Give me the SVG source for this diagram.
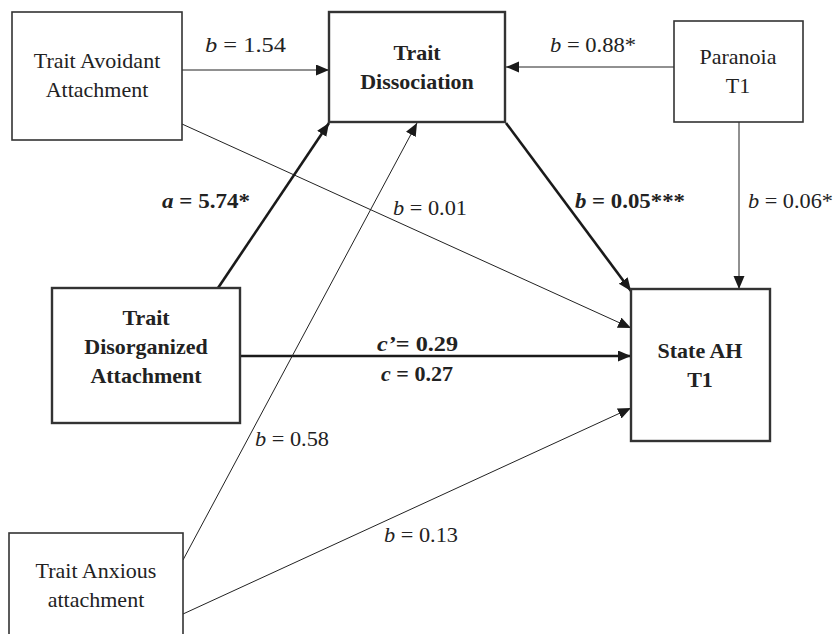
<svg xmlns="http://www.w3.org/2000/svg" width="834" height="634" viewBox="0 0 834 634">
<defs>
<marker id="ah" markerUnits="userSpaceOnUse" markerWidth="14" markerHeight="12" refX="13" refY="5.5" orient="auto">
<path d="M0,0 L13,5.5 L0,11 z" fill="#1a1a1a"/>
</marker>
<style>
.box{fill:#fff;stroke:#333;stroke-width:1.6}
.bbox{fill:#fff;stroke:#333;stroke-width:2.4}
.t{font-family:"Liberation Serif","Times New Roman",serif;font-size:22px;fill:#222}
.b{font-weight:bold}
.thin{stroke:#222;stroke-width:1;fill:none}
.thick{stroke:#1a1a1a;stroke-width:2.6;fill:none}
.lbl{font-family:"Liberation Serif","Times New Roman",serif;font-size:22px;fill:#222}
</style>
</defs>
<rect width="834" height="634" fill="#fff"/>
<g id="connectors">
<line class="thin" x1="182" y1="70" x2="329" y2="70" marker-end="url(#ah)"/>
<line class="thin" x1="674" y1="67" x2="506" y2="67" marker-end="url(#ah)"/>
<line class="thin" x1="739" y1="122" x2="739" y2="289" marker-end="url(#ah)"/>
<line class="thick" x1="506" y1="123" x2="631" y2="291" marker-end="url(#ah)"/>
<line class="thin" x1="182" y1="124" x2="631" y2="328" marker-end="url(#ah)"/>
<line class="thick" x1="218" y1="288" x2="329" y2="123" marker-end="url(#ah)"/>
<line class="thick" x1="240" y1="356" x2="631" y2="356" marker-end="url(#ah)"/>
<line class="thin" x1="183" y1="560" x2="417" y2="123" marker-end="url(#ah)"/>
<line class="thin" x1="183" y1="614" x2="631" y2="408" marker-end="url(#ah)"/>
<text class="lbl" x="205" y="52" textLength="81" lengthAdjust="spacingAndGlyphs"><tspan font-style="italic">b</tspan> = 1.54</text>
<text class="lbl" x="550" y="52" textLength="86" lengthAdjust="spacingAndGlyphs"><tspan font-style="italic">b</tspan> = 0.88*</text>
<text class="lbl" x="748" y="208" textLength="85" lengthAdjust="spacingAndGlyphs"><tspan font-style="italic">b</tspan> = 0.06*</text>
<text class="lbl b" x="575" y="208" textLength="110" lengthAdjust="spacingAndGlyphs"><tspan font-style="italic">b</tspan> = 0.05***</text>
<text class="lbl b" x="162" y="208" textLength="88" lengthAdjust="spacingAndGlyphs"><tspan font-style="italic">a</tspan> = 5.74*</text>
<text class="lbl" x="393" y="215" textLength="74" lengthAdjust="spacingAndGlyphs"><tspan font-style="italic">b</tspan> = 0.01</text>
<text class="lbl b" x="377" y="351" textLength="81" lengthAdjust="spacingAndGlyphs"><tspan font-style="italic">c’</tspan>= 0.29</text>
<text class="lbl b" x="381" y="381" textLength="72" lengthAdjust="spacingAndGlyphs"><tspan font-style="italic">c</tspan> = 0.27</text>
<text class="lbl" x="255" y="446" textLength="74" lengthAdjust="spacingAndGlyphs"><tspan font-style="italic">b</tspan> = 0.58</text>
<text class="lbl" x="384" y="542" textLength="74" lengthAdjust="spacingAndGlyphs"><tspan font-style="italic">b</tspan> = 0.13</text>
</g>
<g id="avoidant">
<rect class="box" x="12" y="12" width="170" height="128"/>
<text class="t" x="97" y="68" text-anchor="middle">Trait Avoidant</text>
<text class="t" x="97" y="97" text-anchor="middle">Attachment</text>
</g>
<g id="dissociation">
<rect class="bbox" x="329" y="12" width="176" height="110"/>
<text class="t b" x="417" y="60" text-anchor="middle">Trait</text>
<text class="t b" x="417" y="89" text-anchor="middle">Dissociation</text>
</g>
<g id="paranoia">
<rect class="box" x="674" y="21" width="129" height="101"/>
<text class="t" x="738" y="64" text-anchor="middle">Paranoia</text>
<text class="t" x="738" y="93" text-anchor="middle">T1</text>
</g>
<g id="disorganized">
<rect class="bbox" x="52" y="288" width="188" height="135"/>
<text class="t b" x="146" y="325" text-anchor="middle">Trait</text>
<text class="t b" x="146" y="354" text-anchor="middle">Disorganized</text>
<text class="t b" x="146" y="383" text-anchor="middle">Attachment</text>
</g>
<g id="stateah">
<rect class="bbox" x="631" y="289" width="139" height="152"/>
<text class="t b" x="700" y="358" text-anchor="middle">State AH</text>
<text class="t b" x="700" y="387" text-anchor="middle">T1</text>
</g>
<g id="anxious">
<rect class="box" x="9" y="533" width="174" height="110"/>
<text class="t" x="96" y="578" text-anchor="middle">Trait Anxious</text>
<text class="t" x="96" y="607" text-anchor="middle">attachment</text>
</g>
</svg>
